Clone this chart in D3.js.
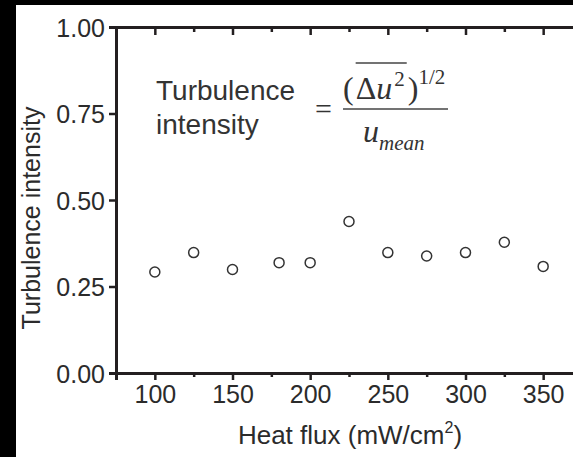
<!DOCTYPE html>
<html>
<head>
<meta charset="utf-8">
<script src="https://cdn.jsdelivr.net/npm/d3@7"></script>
<style>
  body { margin: 0; background: #fff; }
  svg { display: block; }
</style>
</head>
<body>
<svg id="chart" width="573" height="457"></svg>
<script>
// data
const heatFlux = [100, 125, 150, 180, 200, 225, 250, 275, 300, 325, 350]
const intensity = [0.292, 0.348, 0.299, 0.319, 0.319, 0.438, 0.348, 0.338, 0.348, 0.378, 0.308]
const xMajorTicks = [100, 150, 200, 250, 300, 350]
const xMinorTicks = [125, 175, 225, 275, 325]
const yTicks = [0, 0.25, 0.5, 0.75, 1.0]

const svg = d3.select('#chart')
const W = 573, H = 457
const axisColor = '#231f20'
const textColor = '#2b2b2b'
const sans = 'Arial, "Liberation Sans", Helvetica, sans-serif'
const serif = '"Times New Roman", "Liberation Serif", serif'

// frame of the scan: black strips left and top
svg.append('rect').attr('x', 0).attr('y', 0).attr('width', W).attr('height', H).attr('fill', '#fff')
svg.append('rect').attr('x', 0).attr('y', 0).attr('width', 16).attr('height', H).attr('fill', '#000')
svg.append('rect').attr('x', 0).attr('y', 0).attr('width', W).attr('height', 5).attr('fill', '#000')

const x = d3.scaleLinear().domain([75, 375]).range([116, 582])
const y = d3.scaleLinear().domain([0, 1]).range([373, 27])

const styleAxis = (g) => {
    g.select('.domain').attr('stroke', axisColor).attr('stroke-width', 3)
    g.selectAll('.tick line').attr('stroke', axisColor).attr('stroke-width', 2.5)
    g.selectAll('.tick text').attr('fill', textColor)
        .style('font-family', sans).style('font-size', '25px')
}

// bottom axis
const bottomAxis = svg.append('g')
    .attr('transform', 'translate(0,' + y(0) + ')')
    .call(d3.axisBottom(x).tickValues(xMajorTicks).tickSizeOuter(0).tickSize(7).tickPadding(5))
styleAxis(bottomAxis)
svg.append('g')
    .attr('transform', 'translate(0,' + y(0) + ')')
    .call(d3.axisBottom(x).tickValues(xMinorTicks).tickSizeOuter(0).tickSize(4).tickFormat(''))
    .call(g => { g.select('.domain').remove(); styleAxis(g) })

// top axis, ticks inward
const topAxis = svg.append('g')
    .attr('transform', 'translate(0,' + y(1) + ')')
    .call(d3.axisBottom(x).tickValues(xMajorTicks).tickSizeOuter(0).tickSize(8).tickFormat(''))
styleAxis(topAxis)
svg.append('g')
    .attr('transform', 'translate(0,' + y(1) + ')')
    .call(d3.axisBottom(x).tickValues(xMinorTicks).tickSizeOuter(0).tickSize(5).tickFormat(''))
    .call(g => { g.select('.domain').remove(); styleAxis(g) })

// left axis
const leftAxis = svg.append('g')
    .attr('transform', 'translate(' + x(75) + ',0)')
    .call(d3.axisLeft(y).tickValues(yTicks).tickSizeOuter(0).tickSize(7).tickPadding(4)
        .tickFormat(d3.format('.2f')))
styleAxis(leftAxis)
leftAxis.selectAll('.tick text').attr('dy', '0.36em')

// axis titles
svg.append('text')
    .attr('x', 350)
    .attr('y', 444)
    .attr('text-anchor', 'middle')
    .attr('fill', textColor)
    .style('font-family', sans)
    .style('font-size', '26px')
    .call(t => {
        t.append('tspan').text('Heat flux (mW/cm')
        t.append('tspan').attr('dy', -11).style('font-size', '16px').text('2')
        t.append('tspan').attr('dy', 11).text(')')
    })

svg.append('text')
    .attr('transform', 'translate(40,' + 218 + ') rotate(-90)')
    .attr('text-anchor', 'middle')
    .attr('fill', textColor)
    .style('font-family', sans)
    .style('font-size', '25px')
    .text('Turbulence intensity')

// data points
svg.append('g')
    .selectAll('circle')
    .data(heatFlux.map((h, i) => ({ h: h, v: intensity[i] })))
    .enter().append('circle')
    .attr('cx', d => x(d.h))
    .attr('cy', d => y(d.v))
    .attr('r', 5)
    .attr('fill', '#fff')
    .attr('stroke', '#333')
    .attr('stroke-width', 1.5)

// formula annotation
const note = svg.append('g').attr('fill', '#333')
note.append('text')
    .attr('x', 156).attr('y', 100)
    .style('font-family', sans).style('font-size', '28px')
    .text('Turbulence')
note.append('text')
    .attr('x', 156).attr('y', 134)
    .style('font-family', sans).style('font-size', '28px')
    .text('intensity')
note.append('text')
    .attr('x', 315).attr('y', 119)
    .style('font-family', serif).style('font-size', '30px')
    .text('=')

// lay out pieces one after another
function piece(px, py, str, size, italic) {
    const t = note.append('text')
        .attr('x', px).attr('y', py)
        .style('font-family', serif)
        .style('font-size', size + 'px')
        .style('font-style', italic ? 'italic' : 'normal')
        .text(str)
    return px + t.node().getComputedTextLength()
}

let cx = 343
cx = piece(cx, 99, '(', 32, false)
const barStart = cx + 2
cx = piece(cx + 2, 99, '\u0394', 32, false)
cx = piece(cx, 99, 'u', 32, true)
cx = piece(cx + 2, 86, '2', 21, false)
const barEnd = cx
cx = piece(cx + 3, 99, ')', 32, false)
cx = piece(cx, 84, '1/2', 21, false)

note.append('line')
    .attr('x1', barStart).attr('x2', barEnd + 2)
    .attr('y1', 63).attr('y2', 63)
    .attr('stroke', '#444').attr('stroke-width', 1.5)

note.append('line')
    .attr('x1', 343).attr('x2', 448)
    .attr('y1', 109).attr('y2', 109)
    .attr('stroke', '#444').attr('stroke-width', 1.5)

let dx = piece(363, 142, 'u', 32, true)
piece(dx, 150, 'mean', 21, true)
</script>
</body>
</html>
